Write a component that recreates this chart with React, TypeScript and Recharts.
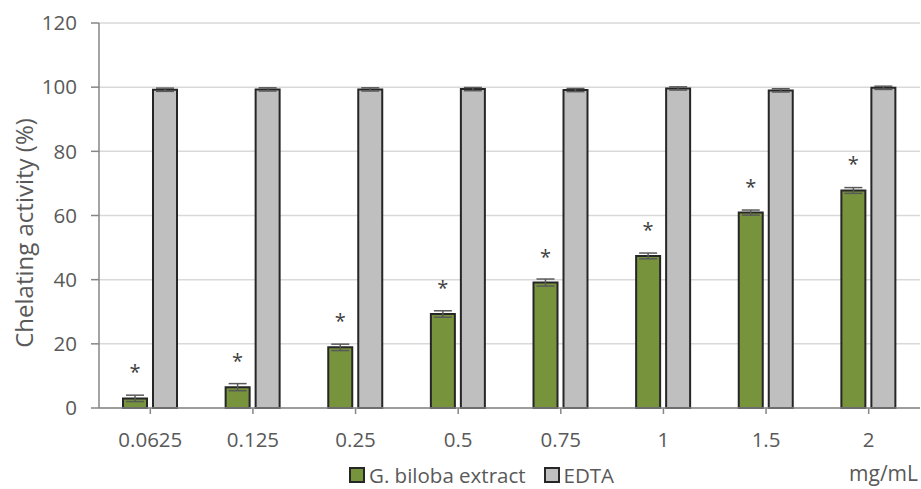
import React from 'react';
import { BarChart, Bar, XAxis, YAxis, CartesianGrid, ErrorBar, LabelList, Legend, Label } from 'recharts';

const categories = ['0.0625', '0.125', '0.25', '0.5', '0.75', '1', '1.5', '2'];
const extractValues = [3.0, 6.5, 18.9, 29.3, 39.1, 47.4, 60.9, 67.8];
const extractErrors = [1.0, 1.1, 1.0, 1.0, 1.1, 0.9, 0.8, 0.9];
const edtaValues = [99.2, 99.3, 99.3, 99.4, 99.1, 99.6, 99.0, 99.8];
const edtaErrors = [0.5, 0.5, 0.5, 0.5, 0.5, 0.5, 0.5, 0.5];
const yTicks = [0, 20, 40, 60, 80, 100, 120];
const seriesNames = ['G. biloba extract', 'EDTA'];

const data = categories.map((c, i) => ({
  cat: c,
  extract: extractValues[i],
  extractErr: extractErrors[i],
  edta: edtaValues[i],
  edtaErr: edtaErrors[i],
}));

const FONT = '"Open Sans", sans-serif';
const TEXT = '#595959';
const AXIS = '#868686';
const GREEN = '#77933C';
const GREY = '#BFBFBF';
const EDGE = '#262626';

const Asterisk = (props: any) => {
  const { x, y, width } = props;
  return (
    <text x={x + width / 2} y={y - 19} textAnchor="middle" fontSize={20} fontFamily={FONT} fill="#404040">
      *
    </text>
  );
};

const LegendContent = () => (
  <div style={{ display: 'flex', alignItems: 'center', fontFamily: FONT, fontSize: 20.5, lineHeight: '20px', height: 20, color: TEXT, whiteSpace: 'nowrap' }}>
    <span style={{ display: 'inline-block', width: 12, height: 12, background: GREEN, border: `2px solid ${EDGE}`, marginRight: 4 }} />
    <span style={{ marginRight: 18 }}>{seriesNames[0]}</span>
    <span style={{ display: 'inline-block', width: 12, height: 12, background: GREY, border: `2px solid ${EDGE}`, marginRight: 4 }} />
    <span>{seriesNames[1]}</span>
  </div>
);

export default function App() {
  return (
    <div style={{ position: 'absolute', left: 0, top: 0, width: 921, height: 489, background: '#fff', overflow: 'hidden' }}>
      <BarChart
        width={921}
        height={489}
        data={data}
        margin={{ top: 23, right: 1, left: 0, bottom: 0 }}
        barSize={24}
        barGap={6}
      >
        <CartesianGrid vertical={false} stroke="#D9D9D9" strokeWidth={1.5} />
        <XAxis
          dataKey="cat"
          height={81}
          axisLine={{ stroke: AXIS, strokeWidth: 1.5 }}
          tickLine={{ stroke: AXIS, strokeWidth: 1.5 }}
          tickSize={6}
          tickMargin={18}
          tick={{ fill: TEXT, fontSize: 20.5, fontFamily: FONT }}
        >
          <Label
            content={(p: any) => {
              const vb = p.viewBox;
              return (
                <text x={vb.x + vb.width - 2} y={481} textAnchor="end" fontSize={21} fontFamily={FONT} fill={TEXT}>
                  mg/mL
                </text>
              );
            }}
          />
        </XAxis>
        <YAxis
          width={99}
          domain={[0, 120]}
          ticks={yTicks}
          interval={0}
          axisLine={{ stroke: AXIS, strokeWidth: 1.5 }}
          tickLine={{ stroke: AXIS, strokeWidth: 1.5 }}
          tickSize={8}
          tickMargin={14}
          tick={{ fill: TEXT, fontSize: 20.5, fontFamily: FONT }}
        >
          <Label
            content={() => (
              <text
                x={33}
                y={233}
                transform="rotate(-90, 33, 233)"
                textAnchor="middle"
                fontSize={24}
                fontFamily={FONT}
                fill={TEXT}
              >
                Chelating activity (%)
              </text>
            )}
          />
        </YAxis>
        <Legend
          verticalAlign="middle"
          layout="horizontal"
          content={<LegendContent />}
          wrapperStyle={{ position: 'absolute', left: 349, top: 465, width: 320, height: 20, overflow: 'visible' }}
        />
        <Bar dataKey="extract" name={seriesNames[0]} fill={GREEN} stroke={EDGE} strokeWidth={2} isAnimationActive={false}>
          <ErrorBar dataKey="extractErr" width={9} stroke="#595959" strokeWidth={1.5} />
          <LabelList dataKey="extract" content={<Asterisk />} />
        </Bar>
        <Bar dataKey="edta" name={seriesNames[1]} fill={GREY} stroke={EDGE} strokeWidth={2} isAnimationActive={false}>
          <ErrorBar dataKey="edtaErr" width={9} stroke="#595959" strokeWidth={1.5} />
        </Bar>
      </BarChart>
    </div>
  );
}
